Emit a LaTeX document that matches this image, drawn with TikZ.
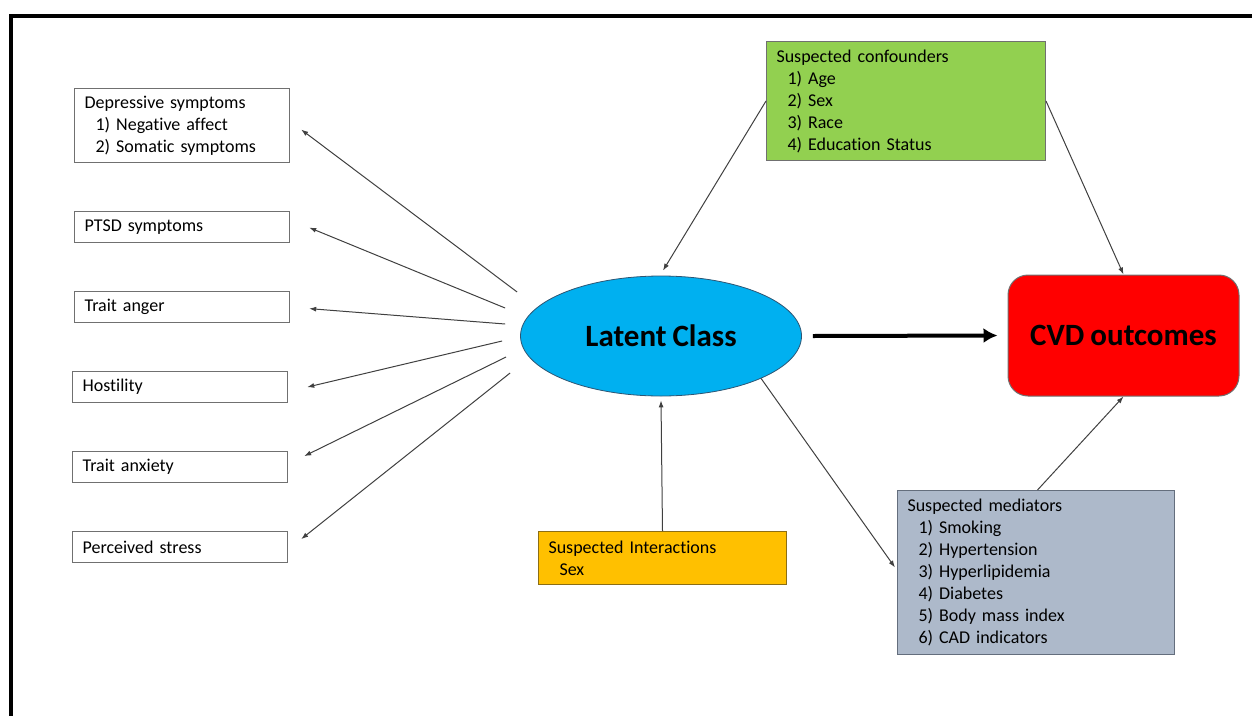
\documentclass[tikz,border=0pt]{standalone}
\usepackage{fontspec}
\setmainfont{Carlito}[Ligatures=NoCommon,WordSpace=0.85]
\usetikzlibrary{positioning,arrows.meta,shapes.geometric}
\definecolor{lcblue}{HTML}{00B0F0}
\definecolor{confgreen}{HTML}{92D050}
\definecolor{intyellow}{HTML}{FFC000}
\definecolor{medgray}{HTML}{ADB9CA}
\definecolor{boxline}{HTML}{707070}

\begin{document}
\begin{tikzpicture}[x=1pt,y=-1pt,>=Latex,node distance=47.8pt]
\tikzstyle{lbox}=[rectangle,draw=boxline,line width=1.2pt,fill=white,align=left,font=\fontsize{18}{22}\selectfont,minimum width=215pt,minimum height=31pt,text width=195pt,inner xsep=10pt,inner ysep=0pt]
\tikzstyle{ibox}=[rectangle,draw=boxline,line width=1pt,align=left,anchor=north west,font=\fontsize{18}{22}\selectfont,inner xsep=10pt,inner ysep=0pt]
\tikzstyle{spoke}=[->,>={Latex[length=7pt,width=5pt]},line width=1pt,draw=black!75]
\newcommand{\ind}{\hspace*{11pt}}

\useasboundingbox (0,0) rectangle (1252,715);

% Frame
\draw[line width=4pt,line cap=rect] (11,720) -- (11,15.5) -- (1260,15.5);

% Left column
\node[lbox,anchor=north west,minimum height=74pt] at (74,88) (dep) {Depressive symptoms\\\ind1) Negative affect\\\ind2) Somatic symptoms};
\node[lbox,below=of dep] (ptsd) {PTSD symptoms};
\node[lbox,below=of ptsd] (anger) {Trait anger};
\node[lbox,below=of anger,xshift=-2pt] (host) {Hostility};
\node[lbox,below=of host] (anx) {Trait anxiety};
\node[lbox,below=of anx] (stress) {Perceived stress};

% Central nodes
\node[ellipse,draw={rgb,255:red,45;green,85;blue,115},line width=0.8pt,fill=lcblue,minimum width=281pt,minimum height=120pt,inner sep=0pt,font=\fontsize{31}{36}\selectfont\bfseries] at (661,336) (LC) {Latent Class};
\node[rectangle,rounded corners=20pt,draw=boxline,line width=1pt,fill=red,minimum width=231pt,minimum height=121pt,inner sep=0pt,font=\fontsize{31}{36}\selectfont\bfseries] at (1123.5,335.5) (CVD) {CVD outcomes};

% Covariate boxes
\node[ibox,fill=confgreen,text width=259pt,minimum height=119pt] at (766,41) (conf) {Suspected confounders\\\ind1) Age\\\ind2) Sex\\\ind3) Race\\\ind4) Education Status};
\node[ibox,fill=intyellow,draw={rgb,255:red,140;green,110;blue,20},text width=228pt,minimum height=53pt] at (538,531) (inter) {Suspected Interactions\\\ind Sex};
\node[ibox,fill=medgray,draw={rgb,255:red,100;green,110;blue,125},text width=257pt,minimum height=164pt] at (897,490) (med) {Suspected mediators\\\ind1) Smoking\\\ind2) Hypertension\\\ind3) Hyperlipidemia\\\ind4) Diabetes\\\ind5) Body mass index\\\ind6) CAD indicators};

% Spokes to the left column
\foreach \tgt/\sx/\sy/\ex/\ey in {dep/-3/-44/11/4, ptsd/-15/-28/19/0.5, anger/-15/-12/19/1.5, host/-18/5/19/0, anx/-14/21/16/-11, stress/-10/37/13/-8}
  \draw[spoke] ([shift={(\sx,\sy)}]LC.west) -- ([shift={(\ex,\ey)}]\tgt.east);

% Main path
\draw[->,>={Latex[length=14pt,width=15pt]},line width=4pt] ([xshift=11pt]LC.east) -- ([xshift=-10pt]CVD.west);

% Confounders, interaction, mediators
\draw[spoke] (conf.west) -- ([shift={(2,-5)}]LC.north);
\draw[spoke] (conf.east) -- (CVD.north);
\draw[spoke] (inter.north) -- ([shift={(0,4)}]LC.south);
\draw[spoke] (LC.-23.5) -- ([shift={(-2,-5)}]med.west);
\draw[spoke] ([xshift=1.5pt]med.north) -- (CVD.south);
\end{tikzpicture}
\end{document}
